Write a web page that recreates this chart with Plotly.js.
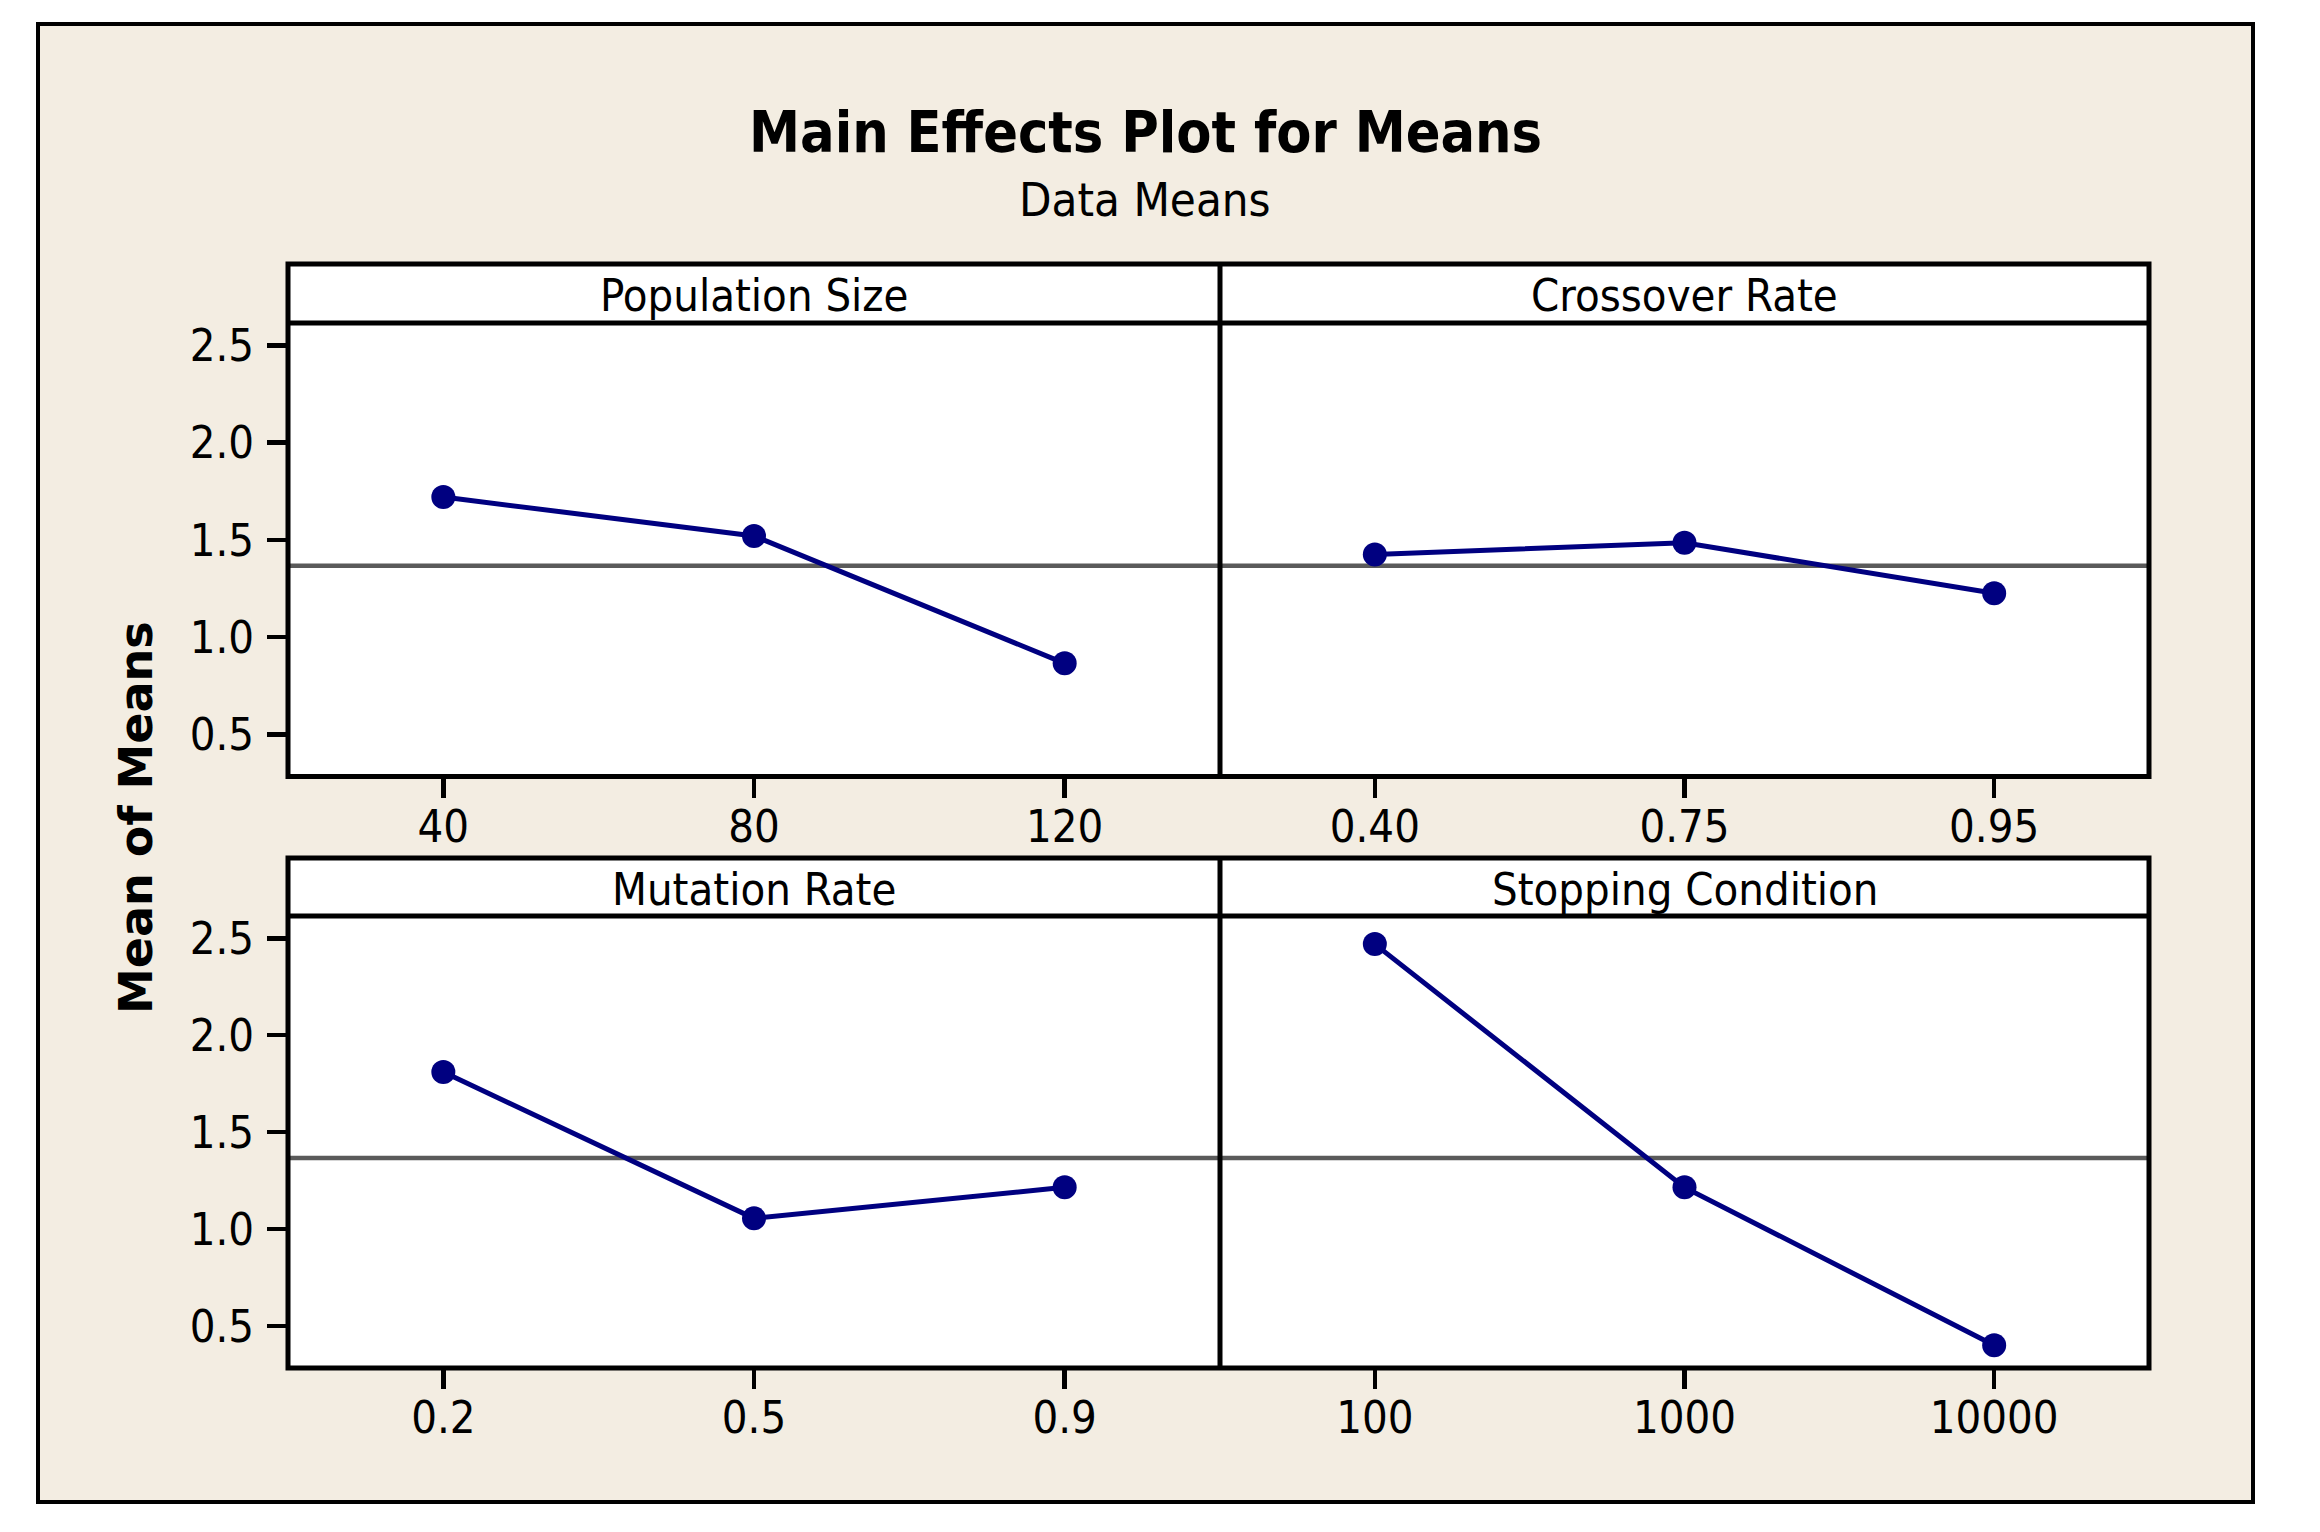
<!DOCTYPE html>
<html>
<head>
<meta charset="utf-8">
<script src="https://cdn.plot.ly/plotly-3.0.1.min.js"></script>
<style>html,body{margin:0;padding:0;background:#fff;}#chart{width:2320px;height:1532px;}</style>
</head>
<body>
<div id="chart"></div>
<script>
// ---- data ----
const factorNames = ['Population Size', 'Crossover Rate', 'Mutation Rate', 'Stopping Condition'];
const popLevels = ['40', '80', '120'];
const popMeans = [1.72, 1.52, 0.865];
const crossLevels = ['0.40', '0.75', '0.95'];
const crossMeans = [1.425, 1.485, 1.225];
const mutLevels = ['0.2', '0.5', '0.9'];
const mutMeans = [1.81, 1.055, 1.215];
const stopLevels = ['100', '1000', '10000'];
const stopMeans = [2.47, 1.215, 0.40];
const grandMean = 1.367;
const yTickVals = [0.5, 1.0, 1.5, 2.0, 2.5];

// ---- geometry (pixels) ----
const W = 2320, H = 1532;
const px = v => v / W;
const py = v => 1 - v / H;
const L = 288, MID = 1220, R = 2149;
const topStripTop = 264, topPlotTop = 323, topPlotBot = 776.5;
const botStripTop = 858, botPlotTop = 916, botPlotBot = 1368;

const NAVY = '#000080';
const BEIGE = '#F3EDE2';
const TXT = 'DejaVu Sans Condensed, DejaVu Sans, sans-serif';
const tickFont = {family: TXT, size: 45, color: '#000'};

function trace(levels, means, xa, ya) {
  return {
    type: 'scatter', mode: 'lines+markers', x: levels, y: means,
    xaxis: xa, yaxis: ya,
    line: {color: NAVY, width: 5},
    marker: {color: NAVY, size: 24},
    hoverinfo: 'x+y', showlegend: false, cliponaxis: false
  };
}

const data = [
  trace(popLevels, popMeans, 'x', 'y'),
  trace(crossLevels, crossMeans, 'x2', 'y2'),
  trace(mutLevels, mutMeans, 'x3', 'y3'),
  trace(stopLevels, stopMeans, 'x4', 'y4')
];

function xAxis(dom, anchor) {
  return {
    domain: dom, anchor: anchor, type: 'category', range: [-0.5, 2.5],
    showgrid: false, zeroline: false, showline: false,
    ticks: 'outside', ticklen: 20, tickwidth: 4.5, tickcolor: '#000',
    tickfont: tickFont, ticklabelstandoff: -10, fixedrange: true
  };
}
function yAxis(dom, anchor, labels) {
  return {
    domain: dom, anchor: anchor, range: [0.283, 2.615],
    tickvals: yTickVals, tickformat: '.1f',
    showgrid: false, zeroline: false, showline: false,
    ticks: labels ? 'outside' : '', ticklen: 20, tickwidth: 4.5, tickcolor: '#000',
    showticklabels: labels, tickfont: tickFont, ticklabelstandoff: 4, fixedrange: true
  };
}

const xL = [px(L), px(MID)], xR = [px(MID), px(R)];
const yT = [py(topPlotBot), py(topPlotTop)], yB = [py(botPlotBot), py(botPlotTop)];

const shapes = [];
// outer beige frame
shapes.push({type: 'rect', xref: 'paper', yref: 'paper', layer: 'below',
  x0: px(38), x1: px(2253), y0: py(1502), y1: py(24),
  fillcolor: BEIGE, line: {color: '#000', width: 4}});
// white panel backgrounds
[[topStripTop, topPlotBot], [botStripTop, botPlotBot]].forEach(([t, b]) => {
  shapes.push({type: 'rect', xref: 'paper', yref: 'paper', layer: 'below',
    x0: px(L), x1: px(R), y0: py(b), y1: py(t), fillcolor: '#fff', line: {width: 0}});
});
// mean reference lines
['', '2', '3', '4'].forEach(s => {
  shapes.push({type: 'line', xref: 'x' + s + ' domain', yref: 'y' + s,
    x0: 0, x1: 1, y0: grandMean, y1: grandMean, layer: 'below',
    line: {color: '#5A5A5A', width: 4.5}});
});
// frames
[[topStripTop, topPlotTop, topPlotBot], [botStripTop, botPlotTop, botPlotBot]].forEach(([t, m, b]) => {
  shapes.push({type: 'rect', xref: 'paper', yref: 'paper', layer: 'above',
    x0: px(L), x1: px(R), y0: py(b), y1: py(t), line: {color: '#000', width: 5}});
  shapes.push({type: 'line', xref: 'paper', yref: 'paper', layer: 'above',
    x0: px(L), x1: px(R), y0: py(m), y1: py(m), line: {color: '#000', width: 5}});
  shapes.push({type: 'line', xref: 'paper', yref: 'paper', layer: 'above',
    x0: px(MID), x1: px(MID), y0: py(b), y1: py(t), line: {color: '#000', width: 5}});
});

const annotations = [
  {text: 'Main Effects Plot for Means', x: px(1145), y: py(132), xref: 'paper', yref: 'paper',
   xanchor: 'center', yanchor: 'middle', showarrow: false,
   font: {family: TXT, size: 57, weight: 'bold', color: '#000'}},
  {text: 'Data Means', x: px(1145), y: py(200), xref: 'paper', yref: 'paper',
   xanchor: 'center', yanchor: 'middle', showarrow: false,
   font: {family: TXT, size: 47, color: '#000'}},
  {text: 'Mean of Means', x: px(136), y: py(818), xref: 'paper', yref: 'paper',
   xanchor: 'center', yanchor: 'middle', textangle: -90, showarrow: false,
   font: {family: 'DejaVu Sans, sans-serif', size: 46, weight: 'bold', color: '#000'}}
];
const stripPos = [
  [(L + MID) / 2, (topStripTop + topPlotTop) / 2],
  [(MID + R) / 2, (topStripTop + topPlotTop) / 2],
  [(L + MID) / 2, (botStripTop + botPlotTop) / 2],
  [(MID + R) / 2, (botStripTop + botPlotTop) / 2]
];
factorNames.forEach((name, i) => {
  annotations.push({text: name, x: px(stripPos[i][0]), y: py(stripPos[i][1] + 2),
    xref: 'paper', yref: 'paper', xanchor: 'center', yanchor: 'middle', showarrow: false,
    font: {family: TXT, size: 45, color: '#000'}});
});

const layout = {
  width: W, height: H,
  margin: {l: 0, r: 0, t: 0, b: 0, pad: 0},
  paper_bgcolor: '#ffffff', plot_bgcolor: 'rgba(0,0,0,0)',
  showlegend: false,
  xaxis: xAxis(xL, 'y'), yaxis: yAxis(yT, 'x', true),
  xaxis2: xAxis(xR, 'y2'), yaxis2: yAxis(yT, 'x2', false),
  xaxis3: xAxis(xL, 'y3'), yaxis3: yAxis(yB, 'x3', true),
  xaxis4: xAxis(xR, 'y4'), yaxis4: yAxis(yB, 'x4', false),
  shapes: shapes, annotations: annotations
};

Plotly.newPlot('chart', data, layout, {displayModeBar: false, staticPlot: true});
</script>
</body>
</html>
